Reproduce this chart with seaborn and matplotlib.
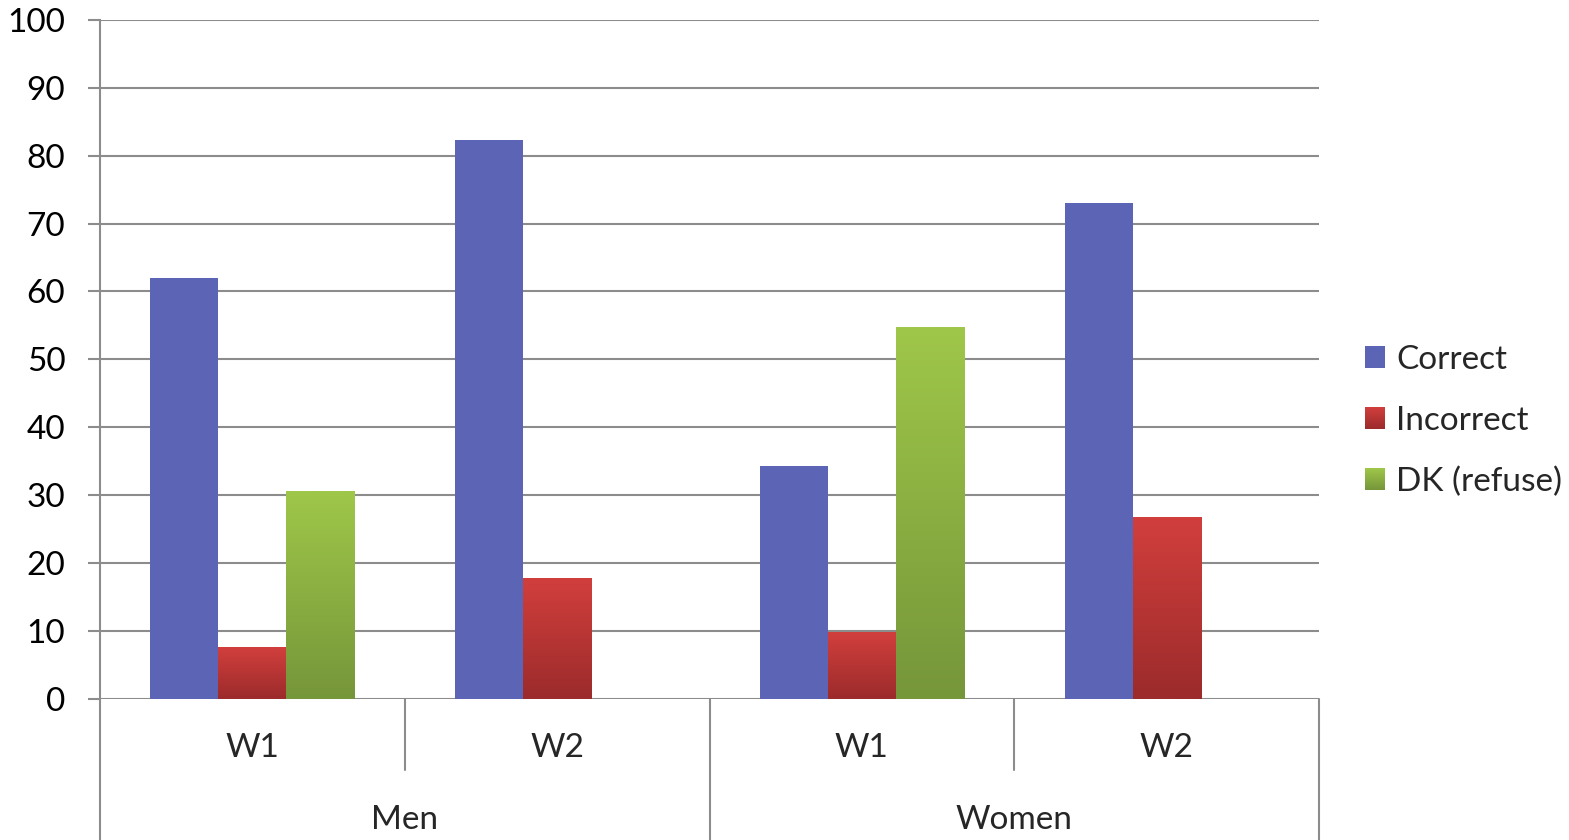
import numpy as np
import pandas as pd
import seaborn as sns
import matplotlib
matplotlib.use("Agg")
import matplotlib.pyplot as plt
from matplotlib.colors import LinearSegmentedColormap
from matplotlib.legend_handler import HandlerBase
from matplotlib.image import BboxImage
from matplotlib.transforms import Bbox, TransformedBbox, blended_transform_factory
from matplotlib.lines import Line2D
from matplotlib.patches import Patch

# ---- data ----
groups = ["Men", "Men", "Women", "Women"]
waves = ["W1", "W2", "W1", "W2"]
series = ["Correct", "Incorrect", "DK (refuse)"]
correct = [62.0, 82.3, 34.3, 73.0]
incorrect = [7.6, 17.7, 9.8, 26.8]
dk_refuse = [30.5, np.nan, 54.8, np.nan]

categories = [f"{g} {w}" for g, w in zip(groups, waves)]
df = pd.DataFrame({
    "category": categories * 3,
    "series": np.repeat(series, len(categories)),
    "value": correct + incorrect + dk_refuse,
})

# ---- styling ----
sns.set_style("white")
plt.rcParams["font.family"] = ["Lato", "DejaVu Sans"]
FS = 24
GRID = "#8c8c8c"
BLUE = "#5b64b5"
red_cmap = LinearSegmentedColormap.from_list("red", ["#9c2b2b", "#d13f3d"])
green_cmap = LinearSegmentedColormap.from_list("green", ["#76963a", "#9fc749"])

fig = plt.figure(figsize=(15.69, 8.40), dpi=100)
ax = fig.add_axes([100 / 1569, 141.3 / 840, 1219 / 1569, 678.7 / 840])

sns.barplot(data=df, x="category", y="value", hue="series", order=categories,
            hue_order=series, palette=[BLUE, "#c03a38", "#8cb042"],
            width=0.67, saturation=1, errorbar=None, legend=False, ax=ax,
            linewidth=0, zorder=3)

# vertical gradients on the Incorrect and DK bars
for container, cmap in zip(ax.containers[1:], [red_cmap, green_cmap]):
    for bar in container:
        h = bar.get_height()
        if not np.isfinite(h) or h <= 0:
            continue
        x0, w = bar.get_x(), bar.get_width()
        ax.imshow(np.linspace(1, 0, 128)[:, None], cmap=cmap, aspect="auto",
                  extent=[x0, x0 + w, 0, h], zorder=3, interpolation="bilinear")
        bar.set_facecolor("none")

ax.set_xlim(-0.5, len(categories) - 0.5)
ax.set_ylim(0, 100)
ax.set_yticks(np.arange(0, 101, 10))
ax.yaxis.grid(True, color=GRID, linewidth=1.5, zorder=0)
ax.set_axisbelow(True)
ax.tick_params(axis="y", length=9, width=1.5, color=GRID, pad=16, labelsize=FS,
               labelcolor="black", left=True)
ax.set_xticks([])
ax.set_xlabel("")
ax.set_ylabel("")
for s in ["top", "right", "bottom"]:
    ax.spines[s].set_visible(False)
ax.spines["left"].set_color(GRID)
ax.spines["left"].set_linewidth(1.5)

# two-level category axis
tr = blended_transform_factory(ax.transData, ax.transAxes)
for i, w in enumerate(waves):
    ax.text(i, -0.073, w, transform=tr, ha="center", va="center", fontsize=FS)
for i in range(0, len(groups), 2):
    ax.text(i + 0.5, -0.179, groups[i], transform=tr, ha="center", va="center", fontsize=FS)
bottom_fig = -141.3 / 678.7
for xb in np.arange(-0.5, len(categories), 1.0):
    long_sep = (xb + 0.5) % 2 == 0
    y1 = bottom_fig if long_sep else -0.105
    ax.add_line(Line2D([xb, xb], [0, y1], transform=tr, color=GRID,
                       linewidth=1.5, clip_on=False))


# legend with gradient squares
class SwatchHandler(HandlerBase):
    def __init__(self, cmap):
        super().__init__()
        self.cmap = cmap

    def create_artists(self, legend, orig_handle, xdescent, ydescent, width,
                       height, fontsize, trans):
        bb = TransformedBbox(Bbox.from_bounds(-xdescent, -ydescent, width, height), trans)
        img = BboxImage(bb, cmap=self.cmap, interpolation="bilinear", origin="upper")
        img.set_data(np.linspace(1, 0, 64)[:, None])
        return [img]


blue_cmap = LinearSegmentedColormap.from_list("blue", [BLUE, BLUE])
handles = [Patch(label=s) for s in series]
hmap = {h: SwatchHandler(c) for h, c in zip(handles, [blue_cmap, red_cmap, green_cmap])}
fig.legend(handles=handles, labels=series, handler_map=hmap, loc="center left",
           bbox_to_anchor=(1365 / 1569, (840 - 421) / 840), frameon=False,
           fontsize=FS, handlelength=0.6, handleheight=0.6, handletextpad=0.33,
           labelspacing=0.92, borderpad=0, borderaxespad=0)

fig.savefig("out.png", dpi=100)
